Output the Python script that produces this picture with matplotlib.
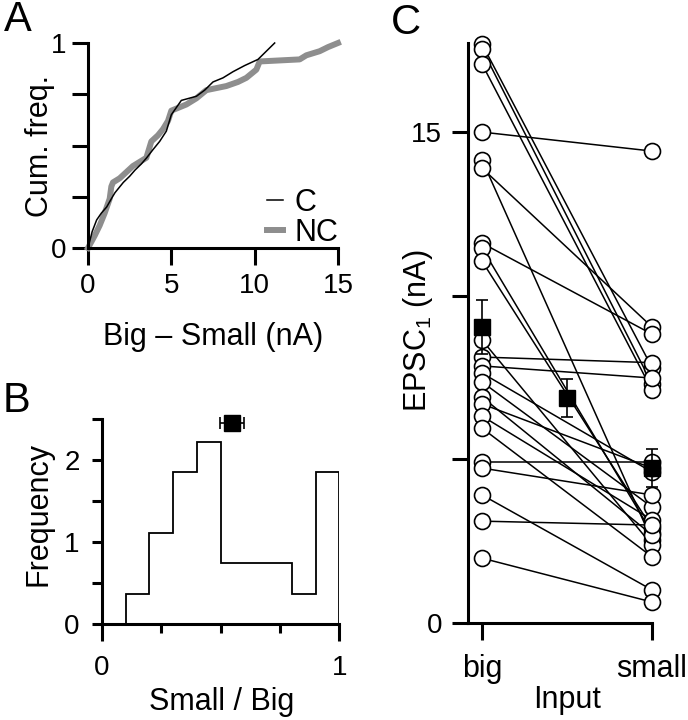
import matplotlib
matplotlib.use('Agg')
import matplotlib.pyplot as plt
import numpy as np

plt.rcParams['font.family'] = ['Liberation Sans', 'DejaVu Sans']
plt.rcParams['mathtext.fontset'] = 'custom'
plt.rcParams['mathtext.rm'] = 'Liberation Sans'
plt.rcParams['mathtext.it'] = 'Liberation Sans:italic'
plt.rcParams['mathtext.bf'] = 'Liberation Sans:bold'
plt.rcParams['mathtext.default'] = 'rm'

# ---------------- data ----------------
# Panel A: cumulative frequency of (Big - Small), nA
c_x = [0, 0.25, 0.52, 0.8, 1.12, 1.4, 1.62, 2.12, 2.5, 2.82, 3.2, 3.52, 3.9, 4.3, 4.7, 5.0, 5.6, 6.5, 7.0, 7.5, 8.1, 8.7, 9.4, 10.2, 10.7, 11.2]
c_y = [0, 0.08, 0.137, 0.17, 0.20, 0.24, 0.27, 0.32, 0.35, 0.38, 0.41, 0.44, 0.48, 0.52, 0.57, 0.65, 0.72, 0.74, 0.77, 0.81, 0.83, 0.86, 0.89, 0.92, 0.96, 1.0]
nc_x = [0, 0.4, 0.7, 1.0, 1.3, 1.4, 1.5, 1.9, 2.3, 2.7, 3.1, 3.5, 3.8, 4.2, 4.5, 4.8, 5.0, 5.9, 6.5, 7.1, 8.3, 9.0, 9.5, 10.1, 10.3, 11.5, 12.7, 13.1, 13.9, 14.4, 15.0]
nc_y = [0, 0.06, 0.11, 0.17, 0.24, 0.30, 0.32, 0.34, 0.37, 0.40, 0.42, 0.44, 0.52, 0.55, 0.58, 0.62, 0.67, 0.70, 0.73, 0.77, 0.79, 0.81, 0.83, 0.87, 0.91, 0.915, 0.92, 0.94, 0.96, 0.98, 1.0]
legend_labels = ['C', 'NC']

# Panel B: histogram of Small / Big
bin_edges = [0.0, 0.1, 0.2, 0.3, 0.4, 0.5, 0.6, 0.7, 0.8, 0.9, 1.0]
ratio_counts = [0, 1, 3, 5, 6, 2, 2, 2, 1, 5]
ratio_mean = 0.549
ratio_sem = 0.05
ratio_mean_level = 2.45

# Panel C: EPSC1 (nA) for big and small inputs (paired)
big = [17.68, 17.53, 17.07, 8.12, 7.85, 14.99, 14.14, 13.89, 11.60, 11.45, 11.05, 8.64,
       7.63, 7.36, 6.90, 6.69, 6.32, 5.95, 4.92, 4.73, 3.91, 3.11, 1.98]
small = [7.80, 7.30, 7.11, 7.95, 7.48, 14.41, 2.53, 9.04, 8.82, 2.75, 2.90, 2.38,
         4.61, 3.54, 2.69, 4.73, 3.15, 2.02, 4.92, 3.91, 1.01, 2.99, 0.64]
mean_pos = [0, 0.5, 1]
mean_vals = [9.04, 6.87, 4.73]
mean_sem = [0.82, 0.57, 0.57]
input_labels = ['big', 'small']

# ---------------- figure ----------------
W, H = 688, 720
fig = plt.figure(figsize=(W / 100, H / 100), dpi=100)


def fx(px):
    return px / W


def fy(py):
    return 1 - py / H


FS = 22      # axis labels
TFS = 20     # tick labels
PFS = 30     # panel letters
LW = 2.2


def style(ax):
    for s in ['top', 'right']:
        ax.spines[s].set_visible(False)
    for s in ['left', 'bottom']:
        ax.spines[s].set_linewidth(LW)
        ax.spines[s].set_capstyle('projecting')
    ax.tick_params(which='both', direction='out', width=LW, labelsize=TFS, color='black')


# ---- Panel A ----
axA = fig.add_axes([fx(88), fy(248), 250 / W, 205 / H])
style(axA)
axA.plot(nc_x, nc_y, color='#8e8e8e', lw=4.3, solid_joinstyle='round', clip_on=False, label=legend_labels[1], zorder=2)
axA.plot(c_x, c_y, color='black', lw=1.1, clip_on=False, label=legend_labels[0], zorder=3)
axA.set_xlim(0, 15)
axA.set_ylim(0, 1)
axA.set_xticks([0, 5, 10, 15])
axA.set_yticks([0, 0.25, 0.5, 0.75, 1])
axA.set_yticklabels(['0', '', '', '', '1'])
axA.tick_params(axis='y', length=11.5, pad=4)
axA.tick_params(axis='x', length=12, pad=6)
h, l = axA.get_legend_handles_labels()
axA.legend(h[::-1], l[::-1], loc='lower right', bbox_to_anchor=(1.0, 0.0), frameon=False,
           fontsize=FS, handlelength=0.55, handletextpad=0.35, labelspacing=0.0,
           borderpad=0, borderaxespad=0.0)
fig.text(fx(40), fy(146), 'Cum. freq.', rotation=90, ha='center', va='center', fontsize=FS)
fig.text(fx(213), fy(337), 'Big \u2013 Small (nA)', ha='center', va='center', fontsize=FS)
fig.text(fx(18), fy(20), 'A', ha='center', va='center', fontsize=PFS)

# ---- Panel B ----
axB = fig.add_axes([fx(102), fy(624), (339.3 - 102) / W, 205 / H])
style(axB)
n_total = sum(ratio_counts)
widths = np.diff(bin_edges)
density = np.array(ratio_counts) / (n_total * widths)
axB.stairs(density, bin_edges, color='black', lw=1.3, fill=False, baseline=0, zorder=2)
axB.errorbar([ratio_mean], [ratio_mean_level], xerr=[ratio_sem], fmt='s', color='black',
             ms=11, ecolor='black', elinewidth=1.2, capsize=4, capthick=1.2, clip_on=False, zorder=3)
axB.set_xlim(0, 1)
axB.set_ylim(0, 2.5)
axB.set_xticks([0, 1])
axB.set_xticks([0.25, 0.5, 0.75], minor=True)
axB.set_yticks([0, 1, 2])
axB.set_yticks([0.5, 1.5, 2.5], minor=True)
axB.tick_params(axis='x', which='major', length=12, pad=10)
axB.tick_params(axis='x', which='minor', length=6.5)
axB.tick_params(axis='y', which='both', length=7, pad=9)
fig.text(fx(38), fy(514), 'Frequency', rotation=90, ha='center', va='center', fontsize=FS)
fig.text(fx(222), fy(702), 'Small / Big', ha='center', va='center', fontsize=FS)
fig.text(fx(16), fy(401), 'B', ha='center', va='center', fontsize=PFS)

# ---- Panel C ----
axC = fig.add_axes([fx(468), fy(623), (652 - 468) / W, (623 - 43) / H])
style(axC)
for b, s in zip(big, small):
    axC.plot([0, 1], [b, s], color='black', lw=1.1, zorder=2, clip_on=False)
axC.plot(np.zeros(len(big)), big, 'o', ms=11.5, mfc='white', mec='black', mew=1.2, zorder=3, clip_on=False)
axC.plot(np.ones(len(small)), small, 'o', ms=11.5, mfc='white', mec='black', mew=1.2, zorder=3, clip_on=False)
axC.errorbar(mean_pos, mean_vals, yerr=mean_sem, fmt='s', color='black', ms=11,
             ecolor='black', elinewidth=1.2, capsize=4, capthick=1.2, zorder=5, clip_on=False,
             linestyle='none')
axC.set_xlim(-0.0824, 1.0)
axC.set_ylim(0, 17.71)
axC.set_xticks([0, 1])
axC.set_xticklabels(input_labels, fontsize=FS)
axC.set_yticks([0, 5, 10, 15])
axC.set_yticklabels(['0', '', '', '15'])
axC.tick_params(axis='y', length=11.5, pad=7)
axC.tick_params(axis='x', length=12, pad=10)
fig.text(fx(418), fy(331), 'EPSC$_1$ (nA)', rotation=90, ha='center', va='center', fontsize=FS)
fig.text(fx(567), fy(700), 'Input', ha='center', va='center', fontsize=FS)
fig.text(fx(406), fy(23), 'C', ha='center', va='center', fontsize=PFS)

fig.savefig('out.png', dpi=100)
